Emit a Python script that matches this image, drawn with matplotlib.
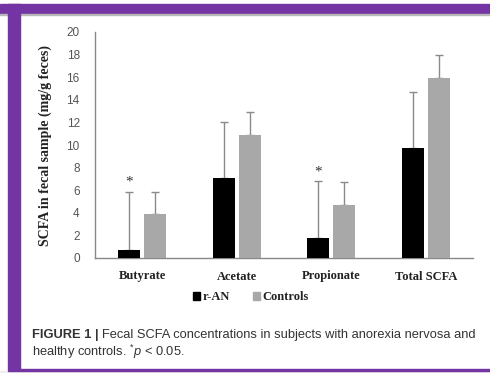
import matplotlib
matplotlib.use("Agg")
import matplotlib.pyplot as plt
from matplotlib.patches import Rectangle, Patch
import numpy as np

categories = ["Butyrate", "Acetate", "Propionate", "Total SCFA"]
ran_mean = [0.75, 7.1, 1.8, 9.7]
ran_upper = [5.8, 12.0, 6.8, 14.7]      # top of error bar
ctrl_mean = [3.9, 10.9, 4.65, 15.95]
ctrl_upper = [5.85, 12.9, 6.7, 18.0]
star_y = [6.7, None, 7.6, None]          # significance markers above r-AN
yticks = list(range(0, 21, 2))

purple = "#7434a3"
serif = "Liberation Serif"
sans = "Liberation Sans"

fig = plt.figure(figsize=(4.9, 3.73), dpi=100)
fig.patch.set_facecolor("white")

# frame decoration
fig.add_artist(Rectangle((0, 0), 1, 2 / 373, transform=fig.transFigure, color="#eeeeee", zorder=0))
fig.add_artist(Rectangle((0, 1 - 14 / 373), 1, 10 / 373, transform=fig.transFigure, color=purple, zorder=1))
fig.add_artist(Rectangle((0, 1 - 15 / 373), 1, 1 / 373, transform=fig.transFigure, color="#b8b8b8", zorder=1))
fig.add_artist(Rectangle((8 / 490, 4 / 373), 12 / 490, 1 - 8 / 373, transform=fig.transFigure, color=purple, zorder=1))
fig.add_artist(Rectangle((8 / 490, 2 / 373), 1, 2 / 373, transform=fig.transFigure, color=purple, zorder=1))

ax = fig.add_axes([95 / 490, 1 - 258 / 373, 378 / 490, 226 / 373])
x = np.arange(len(categories))
w = 0.235
off = 0.137

ran_err = [np.zeros(4), np.array(ran_upper) - np.array(ran_mean)]
ctrl_err = [np.zeros(4), np.array(ctrl_upper) - np.array(ctrl_mean)]

ax.bar(x - off, ran_mean, w, color="black", zorder=3)
ax.bar(x + off, ctrl_mean, w, color="#a8a8a8", zorder=3)
ax.errorbar(x - off, ran_mean, yerr=ran_err, fmt="none", ecolor="#8a8a8a",
            elinewidth=1, capsize=3, capthick=1, zorder=2)
ax.errorbar(x + off, ctrl_mean, yerr=ctrl_err, fmt="none", ecolor="#8a8a8a",
            elinewidth=1, capsize=3, capthick=1, zorder=2)

for i, s in enumerate(star_y):
    if s is not None:
        ax.text(x[i] - off, s, "*", ha="center", va="center", fontsize=11,
                family=serif, color="#333333")

ax.set_xlim(-0.5, 3.5)
ax.set_ylim(0, 20)
ax.set_yticks(yticks)
ax.set_xticks(x)
ax.set_xticklabels(categories, family=serif, fontweight="bold", fontsize=9, color="#222222")
ax.tick_params(axis="y", length=0, pad=11, labelsize=8.5, labelcolor="#555555")
ax.tick_params(axis="x", length=0, pad=9)
for lab in ax.get_yticklabels():
    lab.set_family(sans)
for sp in ["top", "right"]:
    ax.spines[sp].set_visible(False)
for sp in ["left", "bottom"]:
    ax.spines[sp].set_color("#888888")
    ax.spines[sp].set_linewidth(1)

fig.text(45 / 490, 1 - 145 / 373, "SCFA in fecal sample (mg/g feces)", rotation=90,
         ha="center", va="center", family=serif, fontweight="bold", fontsize=10,
         color="#222222")

handles = [Patch(color="black", label="r-AN"), Patch(color="#a8a8a8", label="Controls")]
leg = fig.legend(handles=handles, loc="center", bbox_to_anchor=(251 / 490, 1 - 297 / 373),
                 ncol=2, frameon=False, handlelength=0.6, handleheight=0.6,
                 handletextpad=0.2, columnspacing=1.8,
                 prop={"family": serif, "weight": "bold", "size": 9})
for t in leg.get_texts():
    t.set_color("#222222")

# caption
cap_size = 9.3
t1 = fig.text(32 / 490, 1 - 335 / 373, "FIGURE 1 |", family=sans, fontweight="bold",
              fontsize=cap_size, color="#333333", va="center")
fig.canvas.draw()
bb = t1.get_window_extent()
fig.text((bb.x1 + 3) / 490, 1 - 335 / 373,
         "Fecal SCFA concentrations in subjects with anorexia nervosa and",
         family=sans, fontsize=cap_size, color="#333333", va="center")
plt.rcParams["mathtext.fontset"] = "custom"
plt.rcParams["mathtext.it"] = "Liberation Sans:italic"
plt.rcParams["mathtext.rm"] = "Liberation Sans"
fig.text(32 / 490, 1 - 352 / 373, r"healthy controls. $^{*}\mathit{p}$ < 0.05.",
         family=sans, fontsize=cap_size, color="#333333", va="center")

fig.savefig("out.png", dpi=100)
